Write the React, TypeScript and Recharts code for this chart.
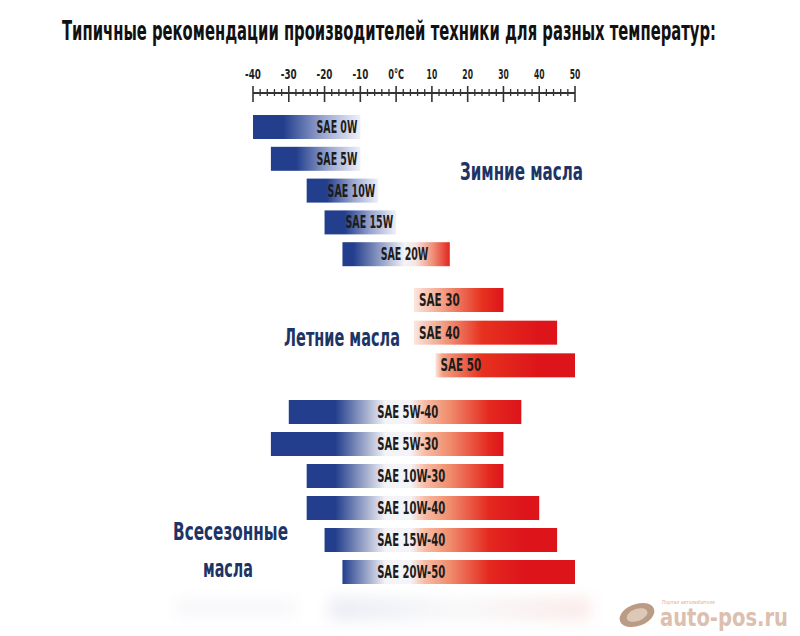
import { Bar, BarChart, XAxis, YAxis } from 'recharts';

// temperature scale, °C
const majorTicks = [-40, -30, -20, -10, 0, 10, 20, 30, 40, 50];
const tickLabels = ['-40', '-30', '-20', '-10', '0°C', '10', '20', '30', '40', '50'];

// winter oils
const winterOils = ['SAE 0W', 'SAE 5W', 'SAE 10W', 'SAE 15W', 'SAE 20W'];
const winterMin = [-40, -35, -25, -20, -15];
const winterMax = [-10, -10, -5, 0, 15];

// summer oils
const summerOils = ['SAE 30', 'SAE 40', 'SAE 50'];
const summerMin = [5, 5, 11];
const summerMax = [30, 45, 50];

// all-season oils
const allSeasonOils = ['SAE 5W-40', 'SAE 5W-30', 'SAE 10W-30', 'SAE 10W-40', 'SAE 15W-40', 'SAE 20W-50'];
const allSeasonMin = [-30, -35, -25, -25, -20, -15];
const allSeasonMax = [35, 30, 30, 40, 45, 50];

type Group = 'winter' | 'summer' | 'all';
type Row = { name: string; range: [number, number]; group: Group };

const toRows = (names: string[], lo: number[], hi: number[], group: Group): Row[] =>
  names.map((name, i) => ({ name, range: [lo[i], hi[i]], group }));

const winterRows = toRows(winterOils, winterMin, winterMax, 'winter');
const summerRows = toRows(summerOils, summerMin, summerMax, 'summer');
const allSeasonRows = toRows(allSeasonOils, allSeasonMin, allSeasonMax, 'all');

// minor ticks every 2 degrees between the majors
const allTicks: number[] = [];
majorTicks.forEach((t, i) => {
  allTicks.push(t);
  if (i < majorTicks.length - 1) {
    const step = (majorTicks[i + 1] - t) / 5;
    for (let k = 1; k < 5; k++) allTicks.push(t + k * step);
  }
});

const NARROW = '"Liberation Sans Narrow", "DejaVu Sans Condensed", "Roboto Condensed", Arial, sans-serif';
const BLUE = '#223e8c';
const NAVY = '#1d3566';
const WHITE = '#f4f3f7';
const RED = '#dd141a';

const MARGIN = { top: 0, right: 225, bottom: 0, left: 253 };

function AxisTick(props: any) {
  const { x, payload } = props;
  const i = majorTicks.indexOf(payload.value);
  if (i < 0) {
    return <line x1={x} x2={x} y1={89} y2={96} stroke="#333" strokeWidth={1.3} />;
  }
  const label = tickLabels[i];
  return (
    <g>
      <line x1={x} x2={x} y1={86} y2={102} stroke="#333" strokeWidth={1.6} />
      <text
        x={x}
        y={79}
        textAnchor="middle"
        fontFamily={NARROW}
        fontWeight="bold"
        fontSize={14}
        fill="#222"
        textLength={label.length * 5.3}
        lengthAdjust="spacingAndGlyphs"
      >
        {label}
      </text>
    </g>
  );
}

function OilBar(props: any) {
  const { x, y, width, height, payload } = props;
  const [lo, hi] = payload.range as [number, number];
  const at = (t: number) => Math.min(1, Math.max(0, (t - lo) / (hi - lo)));
  const px = (t: number) => x + at(t) * width;

  let stops: [number, string][];
  let labelX: number;
  let anchor: 'start' | 'end' = 'start';

  if (payload.group === 'winter') {
    if (hi > 5) {
      stops = [[0, BLUE], [0.1, BLUE], [0.58, WHITE], [0.68, '#f6e4e2'], [0.84, '#f09078'], [1, '#e2261e']];
      labelX = px(9);
    } else {
      stops = [[0, BLUE], [0.28, BLUE], [0.65, '#9aa6d0'], [1, '#f0f0f7']];
      labelX = x + width - 3;
    }
    anchor = 'end';
  } else if (payload.group === 'summer') {
    stops = [[at(5), '#fbe6de'], [at(13), '#f3a085'], [at(24), '#e6321f'], [at(40), RED]];
    labelX = x + 5;
  } else {
    stops = [
      [at(-17), BLUE],
      [at(-3), WHITE],
      [at(4), WHITE],
      [at(8), '#f7bca4'],
      [at(15), '#f08c6c'],
      [at(26), '#e4281f'],
      [at(36), RED],
    ];
    labelX = px(-5.3);
  }

  const id = 'g-' + payload.name.replace(/[^A-Za-z0-9]/g, '');
  const text = payload.name as string;

  return (
    <g>
      <defs>
        <linearGradient id={id} x1="0" x2="1" y1="0" y2="0">
          {stops.map(([o, c], k) => (
            <stop key={k} offset={o} stopColor={c} />
          ))}
        </linearGradient>
      </defs>
      <rect x={x} y={y} width={width} height={height} fill={`url(#${id})`} />
      <text
        x={labelX}
        y={y + height / 2 + 6}
        textAnchor={anchor}
        fontFamily={NARROW}
        fontWeight="bold"
        fontSize={17}
        fill="#1c1c1c"
        textLength={text.length * 6.8}
        lengthAdjust="spacingAndGlyphs"
      >
        {text}
      </text>
    </g>
  );
}

function OilChart(props: { rows: Row[]; top: number; height: number }) {
  return (
    <div style={{ position: 'absolute', left: 0, top: props.top }}>
      <BarChart
        width={800}
        height={props.height}
        data={props.rows}
        layout="vertical"
        margin={MARGIN}
        barCategoryGap={4}
      >
        <XAxis type="number" domain={[-40, 50]} allowDataOverflow hide />
        <YAxis type="category" dataKey="name" hide />
        <Bar dataKey="range" barSize={24} shape={<OilBar />} isAnimationActive={false} />
      </BarChart>
    </div>
  );
}

function TemperatureAxis() {
  return (
    <div style={{ position: 'absolute', left: 0, top: 0 }}>
      <BarChart width={800} height={110} data={winterRows} layout="vertical" margin={MARGIN}>
        <XAxis
          type="number"
          orientation="top"
          domain={[-40, 50]}
          allowDataOverflow
          ticks={allTicks}
          interval={0}
          height={93}
          tickLine={false}
          axisLine={{ stroke: '#333', strokeWidth: 2 }}
          tick={(p: any) => <AxisTick {...p} />}
        />
        <YAxis type="category" dataKey="name" hide />
        {/* invisible series so the axis has an item to scale */}
        <Bar dataKey="range" fill="none" shape={() => <g />} isAnimationActive={false} />
      </BarChart>
    </div>
  );
}

function Overlay() {
  return (
    <svg width={800} height={636} style={{ position: 'absolute', left: 0, top: 0 }}>
      <defs>
        <linearGradient id="shadow" x1="0" x2="1" y1="0" y2="0">
          <stop offset={0} stopColor="#c8cde0" />
          <stop offset={0.5} stopColor="#eeeef2" />
          <stop offset={1} stopColor="#f2c8c4" />
        </linearGradient>
        <filter id="blur" x="-20%" y="-100%" width="140%" height="300%">
          <feGaussianBlur stdDeviation="8" />
        </filter>
      </defs>
      <rect x={330} y={598} width={260} height={22} fill="url(#shadow)" opacity={0.4} filter="url(#blur)" />
      <rect x={175} y={600} width={120} height={16} fill="#d8dbe6" opacity={0.25} filter="url(#blur)" />

      <text
        x={62}
        y={40}
        fontFamily={NARROW}
        fontWeight="bold"
        fontSize={27}
        fill="#111"
        textLength={654}
        lengthAdjust="spacingAndGlyphs"
      >
        Типичные рекомендации производителей техники для разных температур:
      </text>

      <g fontFamily={NARROW} fontWeight="bold" fontSize={24} fill={NAVY}>
        <text x={460} y={180} textLength={123} lengthAdjust="spacingAndGlyphs">
          Зимние масла
        </text>
        <text x={284} y={346} textLength={116} lengthAdjust="spacingAndGlyphs">
          Летние масла
        </text>
        <text x={173} y={540} textLength={115} lengthAdjust="spacingAndGlyphs">
          Всесезонные
        </text>
        <text x={203} y={577} textLength={50} lengthAdjust="spacingAndGlyphs">
          масла
        </text>
      </g>

      <g>
        <ellipse cx={637} cy={615} rx={18} ry={11} fill="#a98268" opacity={0.8} transform="rotate(-20 637 615)" />
        <ellipse cx={637} cy={615} rx={11} ry={6} fill="#e6d3c4" opacity={0.8} transform="rotate(-20 637 615)" />
        <text x={662} y={604} fontFamily={NARROW} fontSize={5} fill="#d9a98c">
          Портал автолюбителя
        </text>
        <text
          x={660}
          y={626}
          fontFamily={NARROW}
          fontWeight="bold"
          fontSize={24}
          fill="#dcbfae"
          textLength={128}
          lengthAdjust="spacingAndGlyphs"
        >
          auto-pos.ru
        </text>
      </g>
    </svg>
  );
}

export default function App() {
  return (
    <div
      style={{
        position: 'absolute',
        left: 0,
        top: 0,
        width: 800,
        height: 636,
        background: '#fff',
        overflow: 'hidden',
      }}
    >
      <Overlay />
      <TemperatureAxis />
      <OilChart rows={winterRows} top={111} height={159} />
      <OilChart rows={summerRows} top={284} height={98} />
      <OilChart rows={allSeasonRows} top={396} height={192} />
    </div>
  );
}
